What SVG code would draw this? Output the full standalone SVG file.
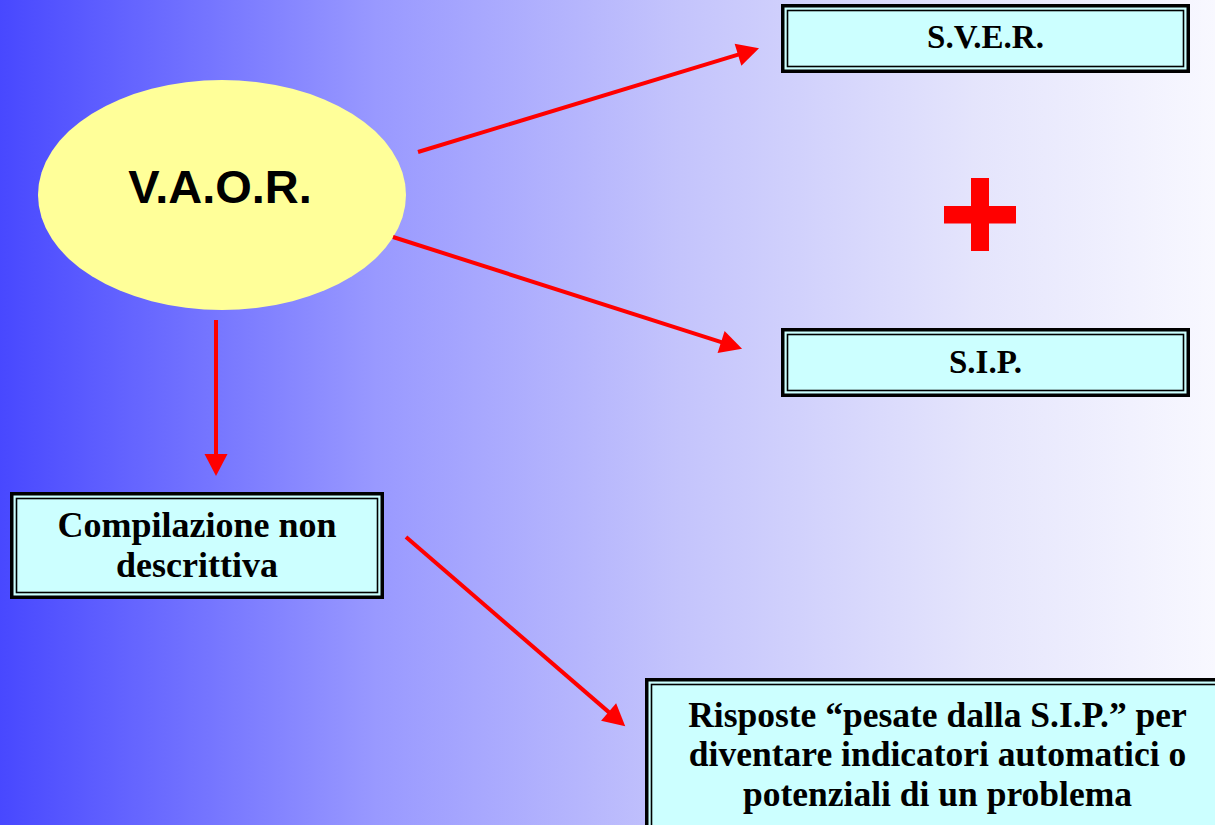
<svg xmlns="http://www.w3.org/2000/svg" width="1215" height="825" viewBox="0 0 1215 825">
<defs>
<linearGradient id="bg" x1="0" y1="0" x2="1" y2="0">
<stop offset="0" stop-color="#4848ff"/>
<stop offset="0.31" stop-color="#9999ff"/>
<stop offset="0.56" stop-color="#c4c4fc"/>
<stop offset="0.8" stop-color="#e4e4fc"/>
<stop offset="1" stop-color="#f8f8ff"/>
</linearGradient>
<marker id="ah" markerUnits="userSpaceOnUse" markerWidth="23" markerHeight="23" refX="1" refY="11.5" orient="auto" overflow="visible">
<path d="M0,0 L22,11.5 L0,23 Z" fill="#ff0000"/>
</marker>
<style>
.outer{fill:#ccffff;stroke:#000;stroke-width:3.5}
.inner{fill:none;stroke:#000;stroke-width:1.6}
.bt{font-family:"Liberation Serif","Times New Roman",serif;font-weight:bold;fill:#000;text-anchor:middle}
.conn{stroke:#ff0000;stroke-width:4;fill:none;marker-end:url(#ah)}
</style>
</defs>
<rect x="0" y="0" width="1215" height="825" fill="url(#bg)"/>
<g id="vaor">
<ellipse cx="222" cy="195" rx="184" ry="115" fill="#ffff99"/>
<text x="220" y="203" font-family="'Liberation Sans',Arial,sans-serif" font-weight="bold" font-size="47" text-anchor="middle">V.A.O.R.</text>
</g>
<g id="sver">
<rect class="outer" x="782.75" y="5.75" width="405.5" height="65.5"/>
<rect class="inner" x="787.5" y="10.5" width="396" height="56"/>
<text class="bt" x="985.5" y="48" font-size="33">S.V.E.R.</text>
</g>
<g id="plus">
<rect x="971" y="178" width="18" height="73" fill="#ff0000"/>
<rect x="944" y="206" width="72" height="17.5" fill="#ff0000"/>
</g>
<g id="sip">
<rect class="outer" x="782.75" y="329.75" width="405.5" height="65.5"/>
<rect class="inner" x="787.5" y="334.5" width="396" height="56"/>
<text class="bt" x="985.5" y="373" font-size="33">S.I.P.</text>
</g>
<g id="compilazione">
<rect class="outer" x="11.75" y="493.75" width="370.5" height="103.5"/>
<rect class="inner" x="16.5" y="498.5" width="361" height="94"/>
<text class="bt" x="197" y="537" font-size="36">Compilazione non</text>
<text class="bt" x="197" y="577" font-size="36">descrittiva</text>
</g>
<g id="risposte">
<rect class="outer" x="646.75" y="679.75" width="590" height="160"/>
<rect class="inner" x="651.5" y="684.5" width="580" height="150"/>
<text class="bt" x="937.5" y="727" font-size="35.5">Risposte “pesate dalla S.I.P.” per</text>
<text class="bt" x="937.5" y="766" font-size="35.5">diventare indicatori automatici o</text>
<text class="bt" x="937.5" y="806" font-size="35.5">potenziali di un problema</text>
</g>
<g id="connectors">
<line class="conn" x1="418" y1="152" x2="738.95" y2="54.4"/>
<line class="conn" x1="393" y1="237" x2="722.05" y2="342.29"/>
<line class="conn" x1="216" y1="320" x2="216" y2="455"/>
<line class="conn" x1="406" y1="537" x2="609.35" y2="712.62"/>
</g>
</svg>
